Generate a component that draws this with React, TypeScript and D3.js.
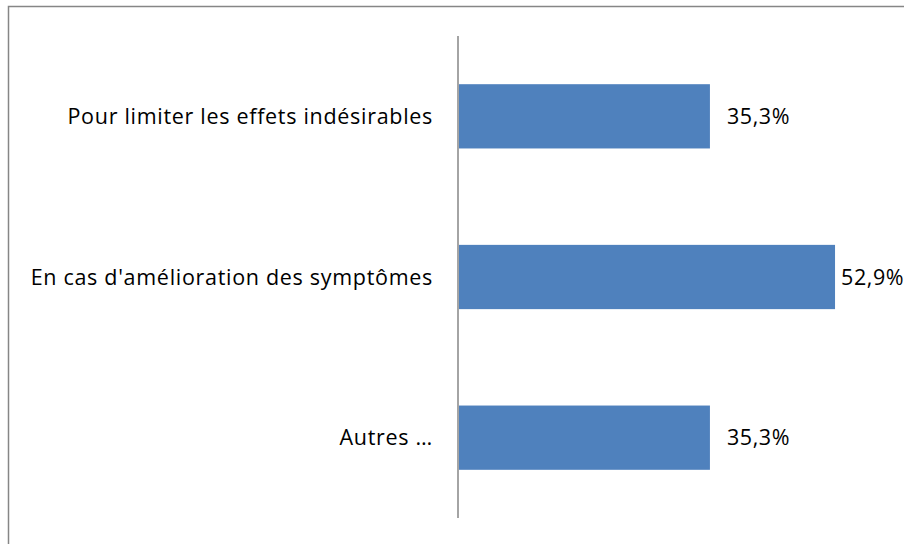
import { useEffect, useRef } from 'react';
import * as d3 from 'd3';

const categories = [
  'Pour limiter les effets indésirables',
  "En cas d'amélioration des symptômes",
  'Autres …',
];
const values = [35.3, 52.9, 35.3];
const valueLabels = ['35,3%', '52,9%', '35,3%'];

export default function App() {
  const svgRef = useRef<SVGSVGElement>(null);

  useEffect(() => {
    document.body.style.margin = '0';
    if (!svgRef.current) return;
    const width = 904;
    const height = 544;
    const svg = d3.select(svgRef.current);
    svg.selectAll('*').remove();
    svg.attr('width', width).attr('height', height);

    svg.append('rect').attr('width', width).attr('height', height).attr('fill', '#fff');

    // chart frame (only top/left edges fall inside the picture)
    svg.append('rect')
      .attr('x', 8.5)
      .attr('y', 6.5)
      .attr('width', width + 20)
      .attr('height', height + 20)
      .attr('fill', 'none')
      .attr('stroke', '#868686')
      .attr('stroke-width', 1.5);

    const x0 = 459;
    const xScale = d3.scaleLinear().domain([0, 60]).range([x0, x0 + 426.5]);
    const yScale = d3.scaleBand().domain(categories).range([36, 518]).paddingInner(0.6).paddingOuter(0.3);

    const rows = categories.map((c, i) => ({ c, v: values[i], label: valueLabels[i] }));

    svg.append('g')
      .selectAll('rect')
      .data(rows)
      .join('rect')
      .attr('x', xScale(0))
      .attr('y', (d) => yScale(d.c)!)
      .attr('width', (d) => xScale(d.v) - xScale(0))
      .attr('height', yScale.bandwidth())
      .attr('fill', '#4F81BD');

    // axis line
    svg.append('line')
      .attr('x1', x0 - 1)
      .attr('x2', x0 - 1)
      .attr('y1', 36)
      .attr('y2', 518)
      .attr('stroke', '#868686')
      .attr('stroke-width', 1.5);

    const font = 'Open Sans, sans-serif';

    // category labels
    svg.append('g')
      .selectAll('text')
      .data(rows)
      .join('text')
      .attr('x', 433)
      .attr('y', (d) => yScale(d.c)! + yScale.bandwidth() / 2)
      .attr('dy', '0.36em')
      .attr('text-anchor', 'end')
      .attr('font-family', font)
      .attr('font-size', 21.5)
      .attr('letter-spacing', 0.7)
      .attr('fill', '#000')
      .text((d) => d.c);

    // value labels (pulled closer to the bar when near the right edge, as in the original)
    svg.append('g')
      .selectAll('text')
      .data(rows)
      .join('text')
      .attr('x', (d) => xScale(d.v) + (xScale(d.v) + 80 > width ? 6 : 17))
      .attr('y', (d) => yScale(d.c)! + yScale.bandwidth() / 2)
      .attr('dy', '0.36em')
      .attr('font-family', font)
      .attr('font-size', 21.5)
      .attr('letter-spacing', 0.6)
      .attr('fill', '#000')
      .text((d) => d.label);
  }, []);

  return <svg ref={svgRef} style={{ display: 'block' }} />;
}
